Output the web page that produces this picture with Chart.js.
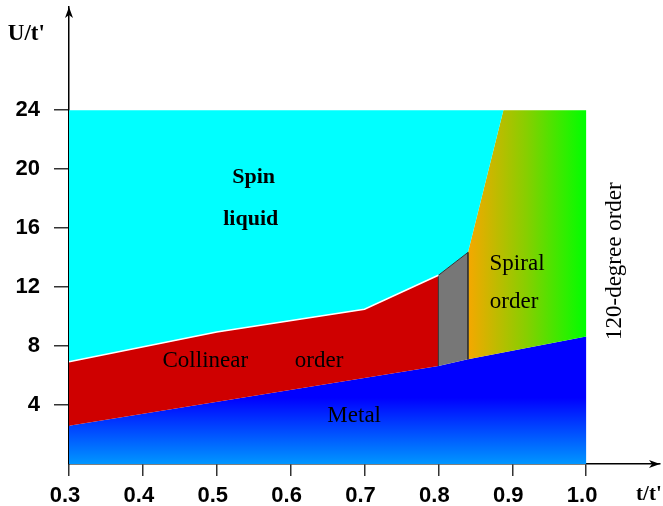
<!DOCTYPE html>
<html>
<head>
<meta charset="utf-8">
<script src="https://cdn.jsdelivr.net/npm/chart.js@4.4.1/dist/chart.umd.min.js"></script>
<style>
  html, body { margin: 0; padding: 0; background: #fff; }
  #wrap { width: 663px; height: 506px; }
</style>
</head>
<body>
<div id="wrap"><canvas id="phase-chart"></canvas></div>
<script>
// phase boundaries, [t/t', U/t']
const metalEdge = [[0.3, 2.6], [0.8, 6.64], [0.84, 7.1], [1.0, 8.65]];
const liquidEdge = [[0.3, 6.94], [0.5, 8.95], [0.7, 10.5], [0.8, 12.8]];
const grayTop = [[0.8, 12.8], [0.84, 14.35]];
const spiralEdge = [[0.84, 14.35], [0.888, 24]];
const uTop = 24;
const tLeft = 0.3;
const tRight = 1.0;

const xTicks = [0.3, 0.4, 0.5, 0.6, 0.7, 0.8, 0.9, 1.0];
const yTicks = [4, 8, 12, 16, 20, 24];

const regionNames = ["Spin", "liquid", "Collinear", "order", "Metal", "Spiral", "order", "120-degree order"];
const regionAt = [[0.55, 19.05], [0.546, 16.2], [0.4845, 6.58], [0.6385, 6.58], [0.686, 2.85], [0.9065, 13.15], [0.9024, 10.58], [1.039, 13.76]];

const pts = (arr) => arr.map((p) => ({ x: p[0], y: p[1] }));

// closed outlines built from the boundaries
const metalPoly = pts([[tLeft, 0], ...metalEdge, [tRight, 0]]);
const collinearPoly = pts([
  metalEdge[0], ...liquidEdge,
  metalEdge[1],
]);
const grayPoly = pts([metalEdge[1], ...grayTop, metalEdge[2]]);
const spiralPoly = pts([metalEdge[2], ...spiralEdge, [tRight, uTop], metalEdge[3]]);
const liquidPoly = pts([
  [tLeft, uTop], spiralEdge[1], spiralEdge[0], grayTop[0],
  ...liquidEdge.slice().reverse(),
]);

function metalFill(context) {
  const chart = context.chart;
  const { chartArea, scales } = chart;
  if (!chartArea) return "#0000ff";
  const g = chart.ctx.createLinearGradient(0, scales.y.getPixelForValue(0), 0, scales.y.getPixelForValue(4.5));
  g.addColorStop(0, "#0096ff");
  g.addColorStop(1, "#0000ff");
  return g;
}

function spiralFill(context) {
  const chart = context.chart;
  const { chartArea, scales } = chart;
  if (!chartArea) return "#80d000";
  const g = chart.ctx.createLinearGradient(scales.x.getPixelForValue(0.84), 0, scales.x.getPixelForValue(1.0), 0);
  g.addColorStop(0, "#f5a800");
  g.addColorStop(0.5, "#86cf00");
  g.addColorStop(1, "#00ff00");
  return g;
}

const labelPlugin = {
  id: "phaseLabels",
  afterDraw(chart) {
    const { ctx, scales } = chart;
    const x = scales.x;
    const y = scales.y;
    ctx.save();
    ctx.fillStyle = "#000";
    ctx.textAlign = "center";
    ctx.textBaseline = "alphabetic";
    regionNames.forEach((name, i) => {
      const px = x.getPixelForValue(regionAt[i][0]);
      const py = y.getPixelForValue(regionAt[i][1]);
      if (i < 2) ctx.font = "bold 22px 'Liberation Serif'";
      else ctx.font = "23px 'Liberation Serif'";
      if (name === "120-degree order") {
        ctx.save();
        ctx.translate(px, py);
        ctx.rotate(-Math.PI / 2);
        ctx.textBaseline = "middle";
        ctx.fillText(name, 0, 0);
        ctx.restore();
      } else {
        ctx.fillText(name, px, py);
      }
    });

    // axis names and arrow heads
    ctx.font = "bold 23px 'Liberation Serif'";
    ctx.fillText("U/t'", x.getPixelForValue(0.2423), y.getPixelForValue(28.75));
    ctx.font = "bold 21px 'Liberation Serif'";
    ctx.fillText("t/t'", x.getPixelForValue(1.085), y.getPixelForValue(-2.45));

    const left = chart.chartArea.left;
    const top = chart.chartArea.top;
    const right = chart.chartArea.right;
    const bottom = chart.chartArea.bottom;
    ctx.beginPath();
    ctx.moveTo(left, top);
    ctx.lineTo(left - 4, top + 11);
    ctx.lineTo(left, top + 8);
    ctx.lineTo(left + 4, top + 11);
    ctx.closePath();
    ctx.fill();
    ctx.beginPath();
    ctx.moveTo(right, bottom);
    ctx.lineTo(right - 11, bottom - 4);
    ctx.lineTo(right - 8, bottom);
    ctx.lineTo(right - 11, bottom + 4);
    ctx.closePath();
    ctx.fill();
    ctx.restore();
  },
};

const tickFont = { size: 22, weight: "bold", family: "'Liberation Sans'" };

new Chart(document.getElementById("phase-chart"), {
  type: "line",
  data: {
    datasets: [
      {
        label: "Spin liquid / Collinear edge",
        data: pts(liquidEdge),
        borderColor: "#ffffff",
        borderWidth: 1.5,
        pointRadius: 0,
        fill: false,
      },
      {
        label: "Gray",
        data: grayPoly,
        borderColor: "#333333",
        borderWidth: 1,
        backgroundColor: "#777777",
        pointRadius: 0,
        fill: "shape",
      },
      {
        label: "Spin liquid",
        data: liquidPoly,
        borderWidth: 0,
        backgroundColor: "#00ffff",
        pointRadius: 0,
        fill: "shape",
      },
      {
        label: "Collinear order",
        data: collinearPoly,
        borderWidth: 0,
        backgroundColor: "#cf0000",
        pointRadius: 0,
        fill: "shape",
      },
      {
        label: "Spiral order",
        data: spiralPoly,
        borderWidth: 0,
        backgroundColor: spiralFill,
        pointRadius: 0,
        fill: "shape",
      },
      {
        label: "Metal",
        data: metalPoly,
        borderWidth: 0,
        backgroundColor: metalFill,
        pointRadius: 0,
        fill: "shape",
      },
    ],
  },
  options: {
    responsive: true,
    maintainAspectRatio: false,
    animation: false,
    layout: { padding: { top: 7, right: 3, left: 0, bottom: 0 } },
    plugins: {
      legend: { display: false },
      tooltip: { enabled: false },
    },
    scales: {
      x: {
        type: "linear",
        min: 0.3,
        max: 1.1,
        afterBuildTicks: (scale) => {
          scale.ticks = xTicks.map((v) => ({ value: v }));
        },
        afterFit: (scale) => {
          scale.height = 42;
          scale.paddingLeft = 0;
          scale.paddingRight = 0;
        },
        grid: {
          display: true,
          drawOnChartArea: false,
          drawTicks: true,
          tickLength: 12,
          color: "#333333",
          lineWidth: 1.5,
        },
        border: { display: true, color: "#000000", width: 1.5 },
        ticks: {
          color: "#000000",
          padding: 7,
          labelOffset: -4,
          maxRotation: 0,
          autoSkip: false,
          font: tickFont,
          callback: (v) => Number(v).toFixed(1),
        },
      },
      y: {
        type: "linear",
        min: 0,
        max: 31,
        afterBuildTicks: (scale) => {
          scale.ticks = yTicks.map((v) => ({ value: v }));
        },
        afterFit: (scale) => {
          scale.width = 69;
          scale.paddingTop = 0;
          scale.paddingBottom = 0;
        },
        grid: {
          display: true,
          drawOnChartArea: false,
          drawTicks: true,
          tickLength: 15,
          color: "#333333",
          lineWidth: 1.5,
        },
        border: { display: true, color: "#000000", width: 1.5 },
        ticks: {
          color: "#000000",
          padding: 14,
          font: tickFont,
          callback: (v) => String(v),
        },
      },
    },
  },
  plugins: [labelPlugin],
});
</script>
</body>
</html>
